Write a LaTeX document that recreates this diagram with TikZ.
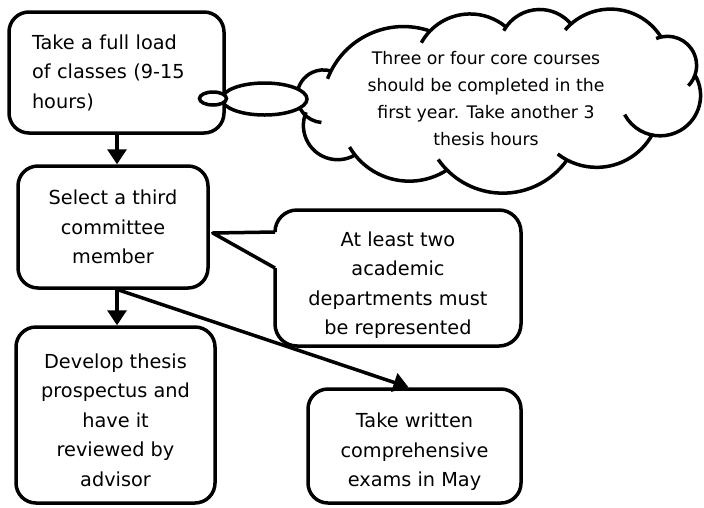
\documentclass[tikz,border=0pt]{standalone}
\usepackage{fontspec}
\setmainfont{DejaVu Sans}
\usetikzlibrary{shapes.geometric,arrows.meta}
\begin{document}
\begin{tikzpicture}[x=1pt,y=-1pt,
  stroke/.style={line width=3.5pt, draw=black},
  box/.style={stroke, rounded corners=20pt, fill=white, inner sep=0pt, align=center,
    font=\fontsize{19.3pt}{29.5pt}\selectfont},
  arr/.style={line width=3.5pt, -{Triangle[width=19pt,length=15pt]}},
  bubble/.style={stroke, ellipse, fill=white, inner sep=0pt},
  cloudtxt/.style={align=center, inner sep=0pt, font=\fontsize{17.3pt}{27pt}\selectfont},
  calltxt/.style={align=center, inner sep=0pt, outer sep=0pt, font=\fontsize{19.3pt}{29.5pt}\selectfont}]
\useasboundingbox (0,0) rectangle (704,507);

% boxes
\node[box, minimum width=215pt, minimum height=121pt, text width=169pt, align=left] (b1) at (116.5,72.5)
  {Take a full load\\of classes (9-15\\hours)};
\node[box, minimum width=190pt, minimum height=122pt] (b2) at (113,227)
  {Select a third\\committee\\member};
\node[box, minimum width=199pt, minimum height=176pt] (b3) at (115.5,415)
  {\rule{0pt}{24.7pt}Develop thesis\\prospectus and\\have it\\reviewed by\\advisor};
\node[box, minimum width=213pt, minimum height=114pt] (b4) at (414.5,446)
  {\rule{0pt}{26.7pt}Take written\\comprehensive\\exams in May};

% cloud (puffs: x1/y1/x2/y2/sagitta/start ext/end ext)
\def\cloudpuffs{355/155/305/115/22/0/5, 305/115/331/71/20/40/0, 331/71/430/31/20/6/0,
  430/31/506/27/15/15/0, 506/27/571/24/16/6/0, 571/24/661/37/21/8/0, 661/37/695/75/15/10/25,
  695/75/652/135/24/0/50, 652/135/567/160/18/0/10, 567/160/447/170/28/0/10, 447/170/355/155/18/0/8}
\fill[white] (355,155) -- (305,115) -- (331,71) -- (430,31) -- (506,27) -- (571,24) -- (661,37)
  -- (695,75) -- (652,135) -- (567,160) -- (447,170) -- cycle;
\foreach \xa/\ya/\xb/\yb/\ps/\ea/\eb in \cloudpuffs {
  \pgfmathsetmacro\Pdx{\xb-\xa}
  \pgfmathsetmacro\Pdy{\yb-\ya}
  \pgfmathsetmacro\Pc{veclen(\Pdx,\Pdy)}
  \pgfmathsetmacro\Pr{(\Pc*\Pc/4+\ps*\ps)/(2*\ps)}
  \pgfmathsetmacro\Pcx{(\xa+\xb)/2-(\Pdy/\Pc)*(\Pr-\ps)}
  \pgfmathsetmacro\Pcy{(\ya+\yb)/2+(\Pdx/\Pc)*(\Pr-\ps)}
  \pgfmathsetmacro\Paa{atan2(\ya-\Pcy,\xa-\Pcx)}
  \pgfmathsetmacro\Pab{atan2(\yb-\Pcy,\xb-\Pcx)}
  \pgfmathsetmacro\Pab{ifthenelse(\Pab<\Paa,\Pab+360,\Pab)}
  \fill[white] (\Pcx,\Pcy) ++(\Paa:\Pr) arc[start angle=\Paa, end angle=\Pab, radius=\Pr] -- cycle;
}
\foreach \xa/\ya/\xb/\yb/\ps/\ea/\eb in \cloudpuffs {
  \pgfmathsetmacro\Pdx{\xb-\xa}
  \pgfmathsetmacro\Pdy{\yb-\ya}
  \pgfmathsetmacro\Pc{veclen(\Pdx,\Pdy)}
  \pgfmathsetmacro\Pr{(\Pc*\Pc/4+\ps*\ps)/(2*\ps)}
  \pgfmathsetmacro\Pcx{(\xa+\xb)/2-(\Pdy/\Pc)*(\Pr-\ps)}
  \pgfmathsetmacro\Pcy{(\ya+\yb)/2+(\Pdx/\Pc)*(\Pr-\ps)}
  \pgfmathsetmacro\Paa{atan2(\ya-\Pcy,\xa-\Pcx)}
  \pgfmathsetmacro\Pab{atan2(\yb-\Pcy,\xb-\Pcx)}
  \pgfmathsetmacro\Pab{ifthenelse(\Pab<\Paa,\Pab+360,\Pab)}
  \pgfmathsetmacro\Pst{\Paa-\ea}
  \pgfmathsetmacro\Pen{\Pab+\eb}
  \draw[stroke] (\Pcx,\Pcy) ++(\Pst:\Pr) arc[start angle=\Pst, end angle=\Pen, radius=\Pr];
}
\node[cloudtxt] (cltext) at (486,99)
  {Three or four core courses\\should be completed in the\\first year. Take another 3\\thesis hours};

% thought bubbles
\node[bubble, minimum width=85pt, minimum height=32pt] (big) at (264.5,99) {};
\node[bubble, minimum width=27pt, minimum height=13pt] (small) at (213,98.5) {};

% callout
\node[calltxt, minimum width=246pt, minimum height=136pt] (note) at (398,278)
  {\rule{0pt}{28.7pt}At least two\\academic\\departments must\\be represented};
\coordinate (tip) at ([xshift=3pt,yshift=-6pt]b2.east);
\fill[white] ([yshift=-22pt]note.north west) -- (tip) -- ([yshift=-58pt]note.north west) -- cycle;
\draw[stroke, line join=round] ([yshift=-22pt]note.north west) -- (tip) -- ([yshift=-58pt]note.north west);
\draw[stroke, rounded corners=22pt] ([yshift=-22pt]note.north west) -- (note.north west) -- (note.north east)
  -- (note.south east) -- (note.south west) -- ([yshift=-58pt]note.north west);

% arrows
\draw[arr] ([xshift=0.5pt]b1.south) -- ([xshift=0.5pt]b1.south |- b2.north);
\draw[arr] ([xshift=4pt]b2.south) -- ([xshift=4pt]b2.south |- b3.north);
\draw[arr] ([xshift=5pt]b2.south) -- ([xshift=-6pt]b4.north);
\end{tikzpicture}
\end{document}
